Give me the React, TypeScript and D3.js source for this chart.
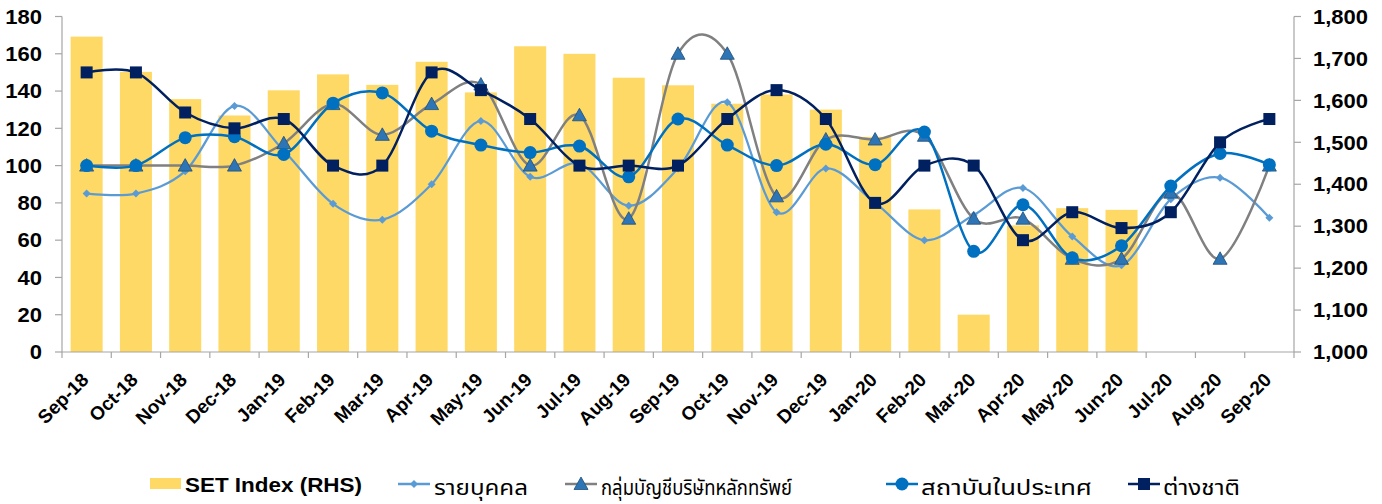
import React from 'react';
import * as d3 from 'd3';

const categories = ['Sep-18','Oct-18','Nov-18','Dec-18','Jan-19','Feb-19','Mar-19','Apr-19','May-19','Jun-19','Jul-19','Aug-19','Sep-19','Oct-19','Nov-19','Dec-19','Jan-20','Feb-20','Mar-20','Apr-20','May-20','Jun-20','Jul-20','Aug-20','Sep-20'];
const setIndex: (number | null)[] = [1752,1668,1603,1564,1624,1662,1637,1692,1619,1729,1711,1654,1636,1592,1614,1578,1513,1340,1089,1302,1343,1339,null,null,null];
const individual = [85,85,97,132,108,79.5,71,90,124,94,101,78.5,98.5,134,75,98.5,80,60,73.5,88,62,46.5,82,93.5,72];
const brokerProp = [100,100,100,100,112,133,116.5,133,143.5,100,127,71.5,160,160,83.5,114,114,116,71.5,71.5,50,50,85.5,50,100];
const localInst = [100,100,115,115.5,106,133.5,139,118.5,111,107,110.5,94,125,111,100,111.5,100.5,118,54,79,50.5,57,89,106.5,100.5];
const foreign = [150,150,128.5,120,125,100,100,150,140.5,125,100,100,100,125,140.5,125,80,100,100,60,75,66.5,75,112.5,125];
const leftTicks = [0,20,40,60,80,100,120,140,160,180];
const rightTicks = [1000,1100,1200,1300,1400,1500,1600,1700,1800];
const legendLabels = ['SET Index (RHS)','รายบุคคล','กลุ่มบัญชีบริษัทหลักทรัพย์','สถาบันในประเทศ','ต่างชาติ'];

const NUM_FONT = "'Liberation Sans', Arial, sans-serif";
const THAI_FONT = "'Noto Sans Thai', 'Noto Sans Thai UI', 'Noto Sans', 'DejaVu Sans', sans-serif";

const C_BAR = '#FFD966';
const C_IND = '#5B9BD5';
const C_BRK = '#808080';
const C_TRI = '#2E75B6';
const C_INST = '#0070C0';
const C_FOR = '#002060';
const C_AXIS = '#A6A6A6';

function Marker({ kind, cx, cy }: { kind: string; cx: number; cy: number }) {
  if (kind === 'diamond') {
    const s = 4;
    return <path d={`M${cx},${cy - s}L${cx + s},${cy}L${cx},${cy + s}L${cx - s},${cy}Z`} fill={C_IND} />;
  }
  if (kind === 'triangle') {
    return <path d={`M${cx},${cy - 7}L${cx + 7},${cy + 5.5}L${cx - 7},${cy + 5.5}Z`} fill={C_TRI} stroke="#1F4E79" strokeWidth={0.8} />;
  }
  if (kind === 'circle') {
    return <circle cx={cx} cy={cy} r={6.5} fill={C_INST} />;
  }
  return <rect x={cx - 6} y={cy - 6} width={12} height={12} fill={C_FOR} />;
}

export default function App() {
  const W = 1382, H = 504;
  const x0 = 62, x1 = 1294, yTop = 16.5, yBot = 352;
  const x = d3.scaleBand<string>().domain(categories).range([x0, x1]).paddingInner(0.35).paddingOuter(0.175);
  const step = x.step();
  const bw = x.bandwidth();
  const cx = (c: string) => (x(c) as number) + bw / 2;
  const yL = d3.scaleLinear().domain([0, 180]).range([yBot, yTop]);
  const yR = d3.scaleLinear().domain([1000, 1800]).range([yBot, yTop]);

  const lineGen = d3.line<number>()
    .x((_, i) => cx(categories[i]))
    .y((d) => yL(d))
    .curve(d3.curveCardinal.tension(0));

  const series = [
    { data: individual, color: C_IND, width: 2.25, marker: 'diamond' },
    { data: brokerProp, color: C_BRK, width: 2.5, marker: 'triangle' },
    { data: localInst, color: C_INST, width: 2.5, marker: 'circle' },
    { data: foreign, color: C_FOR, width: 2.5, marker: 'square' },
  ];

  const boundaries = d3.range(categories.length + 1).map((i) => x0 + i * step);

  const legendItems = [
    { lx: 398, marker: 'diamond', color: C_IND, tx: 434, tl: 94 },
    { lx: 565, marker: 'triangle', color: C_BRK, tx: 601, tl: 191 },
    { lx: 886, marker: 'circle', color: C_INST, tx: 921, tl: 171 },
    { lx: 1128, marker: 'square', color: C_FOR, tx: 1163, tl: 77 },
  ];

  return (
    <svg width={W} height={H} style={{ position: 'absolute', left: 0, top: 0, background: '#fff' }}>
      <rect x={0} y={0} width={W} height={H} fill="#fff" />
      {/* bars */}
      {categories.map((c, i) => {
        const v = setIndex[i];
        if (v == null) return null;
        return <rect key={c} x={x(c)} y={yR(v)} width={bw} height={yBot - yR(v)} fill={C_BAR} />;
      })}
      {/* axes */}
      <line x1={x0} x2={x0} y1={yTop} y2={yBot} stroke={C_AXIS} strokeWidth={1.2} />
      <line x1={x1} x2={x1} y1={yTop} y2={yBot} stroke={C_AXIS} strokeWidth={1.2} />
      <line x1={x0} x2={x1} y1={yBot} y2={yBot} stroke={C_AXIS} strokeWidth={1.2} />
      {leftTicks.map((t) => (
        <g key={'l' + t}>
          <line x1={x0 - 7} x2={x0} y1={yL(t)} y2={yL(t)} stroke={C_AXIS} strokeWidth={1.2} />
          <text transform={`translate(42,${yL(t)}) scale(1.1,1)`} dy="0.36em" textAnchor="end" fontFamily={NUM_FONT} fontWeight="bold" fontSize={20} fill="#000">{d3.format(',')(t)}</text>
        </g>
      ))}
      {rightTicks.map((t) => (
        <g key={'r' + t}>
          <line x1={x1} x2={x1 + 7} y1={yR(t)} y2={yR(t)} stroke={C_AXIS} strokeWidth={1.2} />
          <text transform={`translate(1313,${yR(t)}) scale(1.1,1)`} dy="0.36em" textAnchor="start" fontFamily={NUM_FONT} fontWeight="bold" fontSize={20} fill="#000">{d3.format(',')(t)}</text>
        </g>
      ))}
      {boundaries.map((b, i) => (
        <line key={'b' + i} x1={b} x2={b} y1={yBot} y2={yBot + 6} stroke={C_AXIS} strokeWidth={1.2} />
      ))}
      {categories.map((c) => (
        <text key={'x' + c} transform={`translate(${cx(c) + 3},381) rotate(-45)`} textAnchor="end" fontFamily={NUM_FONT} fontWeight="bold" fontSize={19} fill="#000">{c}</text>
      ))}
      {/* lines */}
      {series.map((s, si) => (
        <g key={'s' + si}>
          <path d={lineGen(s.data) as string} fill="none" stroke={s.color} strokeWidth={s.width} />
          {s.data.map((v, i) => (
            <Marker key={i} kind={s.marker} cx={cx(categories[i])} cy={yL(v)} />
          ))}
        </g>
      ))}
      {/* legend */}
      <rect x={150} y={478} width={31} height={11} fill={C_BAR} />
      <text x={185} y={492} textLength={177} lengthAdjust="spacingAndGlyphs" fontFamily={NUM_FONT} fontWeight="bold" fontSize={20} fill="#000">{legendLabels[0]}</text>
      {legendItems.map((li, i) => (
        <g key={'lg' + i}>
          <line x1={li.lx} x2={li.lx + 32} y1={484} y2={484} stroke={li.color} strokeWidth={2.5} />
          <Marker kind={li.marker} cx={li.lx + 16} cy={484} />
          <text x={li.tx} y={495} textLength={li.tl} lengthAdjust="spacingAndGlyphs" fontFamily={THAI_FONT} fontSize={22} fill="#000">{legendLabels[i + 1]}</text>
        </g>
      ))}
    </svg>
  );
}
